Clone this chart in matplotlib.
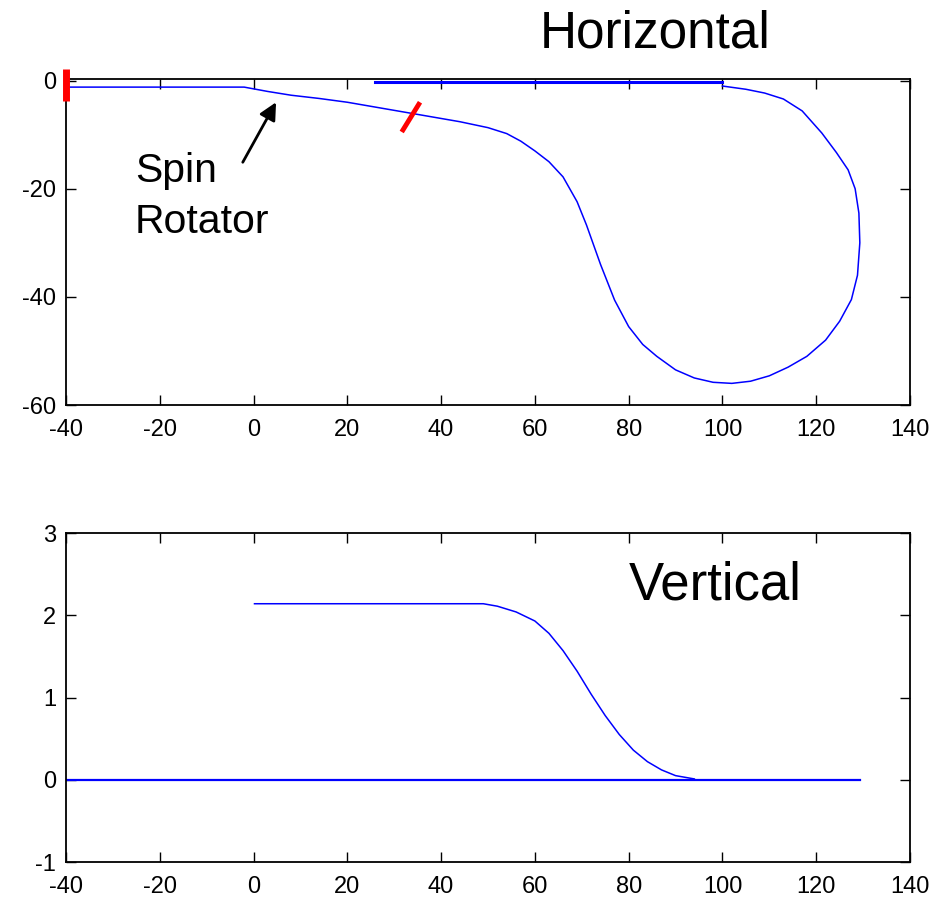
import numpy as np
import matplotlib
matplotlib.use('Agg')
import matplotlib.pyplot as plt

plt.rcParams['axes.unicode_minus'] = False

# --- top panel: horizontal beam path ---
hor_x = [-40, -2, 3, 8, 14, 20, 26, 32, 38, 44, 50, 54, 57, 60, 63, 66, 69, 71, 74, 77,
         80, 83, 86, 90, 94, 98, 102, 106, 110, 114, 118, 122, 125, 127.5, 128.8, 129.3,
         129.1, 128.3, 126.8, 124.3, 121.2, 117, 113, 109, 105, 100]
hor_y = [-1.2, -1.2, -2.0, -2.7, -3.3, -4.0, -4.9, -5.8, -6.7, -7.6, -8.7, -9.8, -11.2,
         -13.0, -15.0, -17.8, -22.4, -26.7, -34.0, -40.6, -45.5, -48.8, -51.0, -53.5,
         -55.0, -55.8, -56.0, -55.6, -54.6, -53.0, -51.0, -48.0, -44.5, -40.5, -36.0,
         -30.0, -24.5, -20.0, -16.5, -13.3, -9.7, -5.6, -3.4, -2.3, -1.6, -1.0]
ret_x = [26, 100]
ret_y = [-0.3, -0.3]

# red markers
start_x = [-40, -40]
start_y = [2.2, -3.7]
rot_x = [31.6, 35.5]
rot_y = [-9.5, -4.0]

# --- bottom panel: vertical beam path ---
ver_x = [0.2, 49, 52, 56, 60, 63, 66, 69, 72, 75, 78, 81, 84, 87, 90, 94]
ver_y = [2.14, 2.14, 2.11, 2.04, 1.93, 1.78, 1.57, 1.32, 1.04, 0.78, 0.55, 0.36, 0.22,
         0.12, 0.05, 0.01]
flat_x = [-40, 129.3]
flat_y = [0, 0]

xticks = [-40, -20, 0, 20, 40, 60, 80, 100, 120, 140]
top_yticks = [-60, -40, -20, 0]
bot_yticks = [-1, 0, 1, 2, 3]

txt_font = ['Liberation Sans', 'DejaVu Sans']

W, H = 941, 897
fig = plt.figure(figsize=(W / 100, H / 100), dpi=100)
ax1 = fig.add_axes([66 / W, 1 - 405 / H, 844 / W, 326 / H])
ax2 = fig.add_axes([66 / W, 1 - 862 / H, 844 / W, 329 / H])

blue = '#0000ff'
ax1.plot(hor_x, hor_y, color=blue, lw=1.1)
ax1.plot(ret_x, ret_y, color=blue, lw=2.2)
ax1.plot(start_x, start_y, color='red', lw=5, clip_on=False, solid_capstyle='butt',
         zorder=5)
ax1.plot(rot_x, rot_y, color='red', lw=3.5, clip_on=False, solid_capstyle='butt')
ax1.set_xlim(-40, 140)
ax1.set_ylim(-60, 0.3)
ax1.set_yticks(top_yticks)

ax2.plot(flat_x, flat_y, color=blue, lw=1.6)
ax2.plot(ver_x, ver_y, color=blue, lw=1.1)
ax2.set_xlim(-40, 140)
ax2.set_ylim(-1, 3)
ax2.set_yticks(bot_yticks)

for ax in (ax1, ax2):
    ax.set_xticks(xticks)
    ax.tick_params(direction='in', length=7, width=1, top=True, right=True,
                   labelsize=17, colors='black')
    ax.tick_params(axis='x', pad=10)
    ax.tick_params(axis='y', pad=7)
    for lab in ax.get_xticklabels() + ax.get_yticklabels():
        lab.set_family(txt_font)
    for sp in ax.spines.values():
        sp.set_linewidth(1.3)

fig.text(540 / W, 1 - 48 / H, 'Horizontal', fontsize=37, family=txt_font,
         ha='left', va='baseline')
fig.text(629 / W, 1 - 600 / H, 'Vertical', fontsize=38, family=txt_font,
         ha='left', va='baseline')
fig.text(135 / W, 1 - 182 / H, 'Spin', fontsize=29.5, family=txt_font,
         ha='left', va='baseline')
fig.text(135 / W, 1 - 233 / H, 'Rotator', fontsize=29.5, family=txt_font,
         ha='left', va='baseline')

ax1.annotate('', xy=(4.8, -4.0), xytext=(-2.3, -15.1),
             arrowprops=dict(arrowstyle='-|>', color='black', lw=2,
                             mutation_scale=26, shrinkA=0, shrinkB=0))

fig.savefig('out.png', dpi=100)
